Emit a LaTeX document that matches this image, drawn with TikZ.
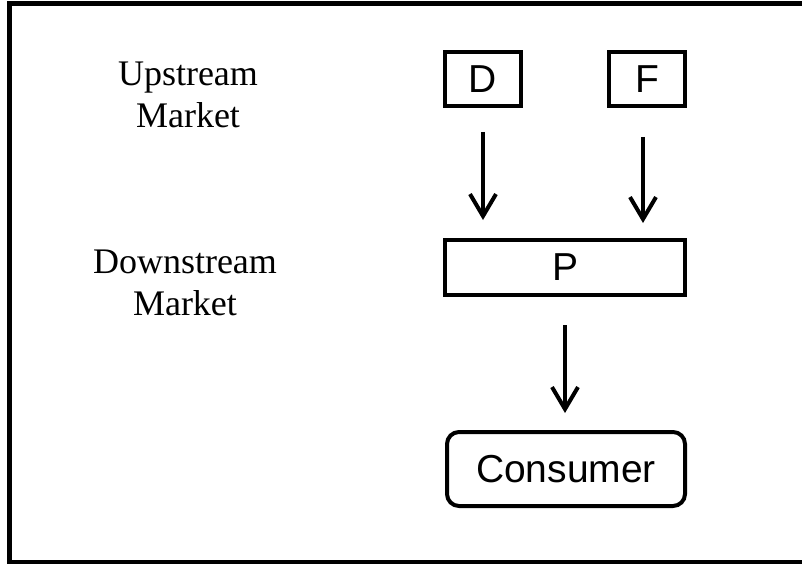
\documentclass[tikz,border=0pt]{standalone}
\usepackage{fontspec}
\setmainfont{Liberation Serif}
\newfontfamily\boxfont{Liberation Sans}
\usepackage{tikz}
\usetikzlibrary{arrows.meta, positioning, calc}

\tikzset{
  firm/.style={draw=black, line width=4pt, fill=white, inner sep=0pt,
               font=\boxfont\fontsize{39}{44}\selectfont},
  flow/.style={line width=4pt, -{Straight Barb[length=22pt, width=26pt, line width=4pt]}},
  level/.style={align=center, font=\fontsize{36}{42}\selectfont}
}

\begin{document}
\begin{tikzpicture}[x=1pt, y=-1pt]
  \clip (0,0) rectangle (802,564);
  \fill[white] (0,0) rectangle (802,564);
  % frame, right edge cut off
  \draw[line width=5pt] (9.5,4) rectangle (820,562.5);

  % market levels
  \node[level] (upstream)   at (188,95)  {Upstream\\Market};
  \node[level] (downstream) at (185,283) {Downstream\\Market};

  % firms
  \node[firm, minimum width=76pt,  minimum height=54pt] (D) at (483,79)    {D};
  \node[firm, minimum width=76pt,  minimum height=54pt] (F) at (647,79)    {F};
  \node[firm, minimum width=240pt, minimum height=55pt] (P) at (565,267.5) {P};
  \node[firm, minimum width=238pt, minimum height=74pt, rounded corners=12pt]
       (Consumer) at (566,469) {Consumer};

  \draw[flow, shorten <=24pt, shorten >=18pt] (D.south) -- (D.south |- P.north);
  \draw[flow, shorten <=29pt, shorten >=15pt] ([xshift=-4pt]F.south) -- ([xshift=-4pt]F.south |- P.north);
  \draw[flow, shorten <=28pt, shorten >=17pt] (P.south) -- (P.south |- Consumer.north);
\end{tikzpicture}
\end{document}
